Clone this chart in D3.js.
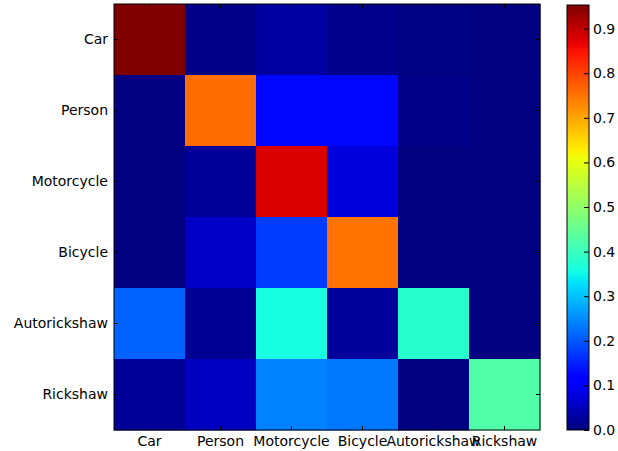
<!DOCTYPE html>
<html>
<head>
<meta charset="utf-8">
<script src="https://cdn.jsdelivr.net/npm/d3@7"></script>
<style>
  html, body { margin: 0; padding: 0; background: #fff; }
  text { font-family: "DejaVu Sans", sans-serif; fill: #000; }
</style>
</head>
<body>
<svg id="chart" width="618" height="451"></svg>
<script>
// Class labels (rows = true class, columns = predicted class)
const categories = ["Car", "Person", "Motorcycle", "Bicycle", "Autorickshaw", "Rickshaw"];

// Row-normalised confusion matrix, one array per true class
const rowCar          = [0.953, 0.006, 0.028, 0.010, 0.003, 0.000];
const rowPerson       = [0.000, 0.757, 0.124, 0.124, 0.008, 0.000];
const rowMotorcycle   = [0.000, 0.020, 0.878, 0.076, 0.000, 0.000];
const rowBicycle      = [0.000, 0.060, 0.175, 0.750, 0.000, 0.000];
const rowAutorickshaw = [0.212, 0.018, 0.360, 0.024, 0.380, 0.000];
const rowRickshaw     = [0.020, 0.055, 0.240, 0.230, 0.000, 0.426];
const matrix = [rowCar, rowPerson, rowMotorcycle, rowBicycle, rowAutorickshaw, rowRickshaw];

// Colour bar tick labels
const colorbarTicks = [0.0, 0.1, 0.2, 0.3, 0.4, 0.5, 0.6, 0.7, 0.8, 0.9];

// Classic "jet" colormap, piecewise linear per channel
const jetData = {
  r: [[0, 0], [0.35, 0], [0.66, 1], [0.89, 1], [1, 0.5]],
  g: [[0, 0], [0.125, 0], [0.375, 1], [0.64, 1], [0.91, 0], [1, 0]],
  b: [[0, 0.5], [0.11, 1], [0.34, 1], [0.65, 0], [1, 0]]
};
function channel(pts, t) {
  for (let i = 1; i < pts.length; i++) {
    if (t <= pts[i][0]) {
      const [x0, y0] = pts[i - 1], [x1, y1] = pts[i];
      return y0 + (y1 - y0) * (t - x0) / (x1 - x0);
    }
  }
  return pts[pts.length - 1][1];
}
function jet(t) {
  t = Math.max(0, Math.min(1, t));
  const c = k => Math.round(255 * channel(jetData[k], t));
  return `rgb(${c("r")},${c("g")},${c("b")})`;
}

const svg = d3.select("#chart");
const plot = { left: 114, top: 4, right: 540, bottom: 430 };
const cbar = { left: 567, right: 589, top: 5, bottom: 430 };

const vmax = d3.max(matrix.flat());
const color = d3.scaleSequential(jet).domain([0, vmax]);

const x = d3.scaleBand().domain(categories).range([plot.left, plot.right]);
const y = d3.scaleBand().domain(categories).range([plot.top, plot.bottom]);

// Heatmap cells
const cells = [];
matrix.forEach((row, i) => row.forEach((v, j) => cells.push({ r: categories[i], c: categories[j], v })));
svg.append("g").selectAll("rect").data(cells).join("rect")
  .attr("x", d => x(d.c))
  .attr("y", d => y(d.r))
  .attr("width", x.bandwidth() + 0.5)
  .attr("height", y.bandwidth() + 0.5)
  .attr("fill", d => color(d.v));

// Frame
svg.append("rect")
  .attr("x", plot.left).attr("y", plot.top)
  .attr("width", plot.right - plot.left).attr("height", plot.bottom - plot.top)
  .attr("fill", "none").attr("stroke", "#000").attr("stroke-width", 1);

// Inward tick marks on all four sides plus labels on bottom and left
const tickLen = 4;
const axisBottom = d3.axisBottom(x).tickSizeInner(-tickLen).tickSizeOuter(0).tickPadding(6);
const axisTop = d3.axisTop(x).tickSizeInner(-tickLen).tickSizeOuter(0).tickFormat("");
const axisLeft = d3.axisLeft(y).tickSizeInner(-tickLen).tickSizeOuter(0).tickPadding(6);
const axisRight = d3.axisRight(y).tickSizeInner(-tickLen).tickSizeOuter(0).tickFormat("");

function styleAxis(g) {
  g.select(".domain").remove();
  g.selectAll("line").attr("stroke", "#000");
  g.selectAll("text").attr("font-size", 14).attr("font-family", "DejaVu Sans, sans-serif").attr("fill", "#000");
}
svg.append("g").attr("transform", `translate(0,${plot.bottom})`).call(axisBottom).call(styleAxis);
svg.append("g").attr("transform", `translate(0,${plot.top})`).call(axisTop).call(styleAxis);
svg.append("g").attr("transform", `translate(${plot.left},0)`).call(axisLeft).call(styleAxis);
svg.append("g").attr("transform", `translate(${plot.right},0)`).call(axisRight).call(styleAxis);

// Colour bar
const defs = svg.append("defs");
const grad = defs.append("linearGradient").attr("id", "jetGrad")
  .attr("x1", 0).attr("y1", 1).attr("x2", 0).attr("y2", 0);
d3.range(0, 1.0001, 0.01).forEach(t => {
  grad.append("stop").attr("offset", t).attr("stop-color", jet(t));
});
svg.append("rect")
  .attr("x", cbar.left).attr("y", cbar.top)
  .attr("width", cbar.right - cbar.left).attr("height", cbar.bottom - cbar.top)
  .attr("fill", "url(#jetGrad)").attr("stroke", "#000").attr("stroke-width", 1);

const cy = d3.scaleLinear().domain([0, vmax]).range([cbar.bottom, cbar.top]);
const cbarAxis = d3.axisRight(cy).tickValues(colorbarTicks).tickFormat(d3.format(".1f"))
  .tickSizeInner(-5).tickSizeOuter(0).tickPadding(4);
svg.append("g").attr("transform", `translate(${cbar.right},0)`).call(cbarAxis).call(styleAxis);
</script>
</body>
</html>
